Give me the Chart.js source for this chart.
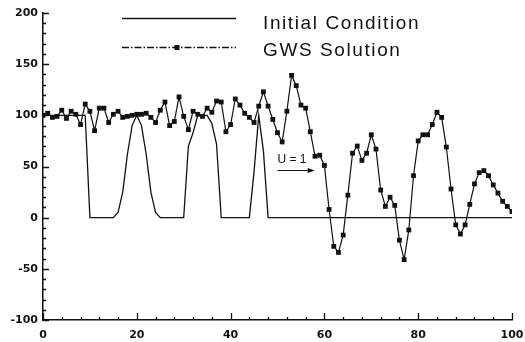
<!DOCTYPE html>
<html>
<head>
<meta charset="utf-8">
<script src="https://cdn.jsdelivr.net/npm/chart.js@4.4.0/dist/chart.umd.min.js"></script>
<style>
  html, body { margin: 0; padding: 0; background: #fff; }
  #wrap { width: 525px; height: 342px; }
</style>
</head>
<body>
<div id="wrap"><canvas id="chart" width="525" height="342"></canvas></div>
<script>
// data
const xs = [
  0, 1, 2, 3, 4, 5, 6, 7, 8, 9, 10, 11, 12, 13, 14, 15, 16, 17, 18, 19,
  20, 21, 22, 23, 24, 25, 26, 27, 28, 29, 30, 31, 32, 33, 34, 35, 36, 37, 38, 39,
  40, 41, 42, 43, 44, 45, 46, 47, 48, 49, 50, 51, 52, 53, 54, 55, 56, 57, 58, 59,
  60, 61, 62, 63, 64, 65, 66, 67, 68, 69, 70, 71, 72, 73, 74, 75, 76, 77, 78, 79,
  80, 81, 82, 83, 84, 85, 86, 87, 88, 89, 90, 91, 92, 93, 94, 95, 96, 97, 98, 99, 100
];
const initialCondition = [
  100, 100, 100, 100, 100, 100, 100, 100, 100, 100, 0, 0, 0, 0, 0, 0, 5, 25, 62, 90,
  100, 90, 62, 25, 5, 0, 0, 0, 0, 0, 0, 70, 83, 100, 100, 100, 92, 72, 0, 0,
  0, 0, 0, 0, 0, 45, 100, 65, 0, 0, 0, 0, 0, 0, 0, 0, 0, 0, 0, 0,
  0, 0, 0, 0, 0, 0, 0, 0, 0, 0, 0, 0, 0, 0, 0, 0, 0, 0, 0, 0,
  0, 0, 0, 0, 0, 0, 0, 0, 0, 0, 0, 0, 0, 0, 0, 0, 0, 0, 0, 0, 0
];
const gwsSolution = [
  100, 102, 98, 99, 105, 97, 104, 101, 91, 111, 104, 85, 107, 107, 93, 101, 104, 98, 99, 100,
  101, 101, 102, 98, 93, 105, 113, 90, 94, 118, 99, 86, 104, 101, 99, 107, 103, 114, 113, 84,
  91, 116, 110, 102, 98, 93, 109, 123, 109, 96, 83, 74, 104, 139, 129, 110, 107, 84, 60, 61,
  51, 8, -28, -34, -17, 22, 63, 70, 56, 63, 81, 67, 27, 11, 20, 12, -22, -41, -12, 41,
  75, 81, 81, 91, 103, 98, 69, 28, -7, -16, -7, 13, 33, 44, 46, 41, 32, 24, 16, 11, 6
];
const seriesNames = ['Initial Condition', 'GWS Solution'];
const flowLabel = 'U = 1';

const ink = '#111';
const tickFont = { family: 'DejaVu Sans', size: 11, weight: 'bold' };

function pts(ys) {
  return xs.map((x, i) => ({ x: x, y: ys[i] }));
}

// inward tick marks, legend and the flow arrow
const decor = {
  id: 'decor',
  afterDraw(chart) {
    const ctx = chart.ctx;
    const xS = chart.scales.x, yS = chart.scales.y;
    const area = chart.chartArea;
    ctx.save();
    ctx.strokeStyle = ink;
    ctx.lineWidth = 1.3;
    ctx.beginPath();
    for (let v = 0; v <= 100; v += 4) {
      const px = Math.round(xS.getPixelForValue(v)) + 0.5;
      const len = v % 20 === 0 ? 7 : 3;
      ctx.moveTo(px, area.bottom);
      ctx.lineTo(px, area.bottom - len);
    }
    for (let v = -100; v <= 200; v += 10) {
      const py = Math.round(yS.getPixelForValue(v)) + 0.5;
      const len = v % 50 === 0 ? 6 : 3;
      ctx.moveTo(area.left, py);
      ctx.lineTo(area.left + len, py);
    }
    ctx.stroke();

    // legend
    const ds = chart.data.datasets;
    ctx.lineWidth = 1.3;
    ctx.beginPath();
    ctx.moveTo(122, 18.5);
    ctx.lineTo(236, 18.5);
    ctx.stroke();
    ctx.setLineDash([7, 2, 1.5, 2]);
    ctx.beginPath();
    ctx.moveTo(122, 47.5);
    ctx.lineTo(236, 47.5);
    ctx.stroke();
    ctx.setLineDash([]);
    ctx.fillStyle = ink;
    ctx.fillRect(174.5, 45, 5, 5);

    ctx.font = '19px "Liberation Sans", Arial, sans-serif';
    ctx.letterSpacing = '1.6px';
    ctx.textBaseline = 'alphabetic';
    ctx.textAlign = 'left';
    ctx.fillText(ds[0].label, 263, 28.5);
    ctx.fillText(ds[1].label, 263, 56);

    // U = 1 with arrow
    ctx.letterSpacing = '0px';
    ctx.font = '12px "Liberation Sans", Arial, sans-serif';
    const ax = xS.getPixelForValue(50);
    ctx.fillText(flowLabel, ax, yS.getPixelForValue(53));
    const ay = Math.round(yS.getPixelForValue(47)) + 0.5;
    const ex = xS.getPixelForValue(57.5);
    ctx.lineWidth = 1.2;
    ctx.beginPath();
    ctx.moveTo(ax, ay);
    ctx.lineTo(ex, ay);
    ctx.stroke();
    ctx.beginPath();
    ctx.moveTo(ex + 2, ay);
    ctx.lineTo(ex - 5, ay - 2.5);
    ctx.lineTo(ex - 5, ay + 2.5);
    ctx.closePath();
    ctx.fill();
    ctx.restore();
  }
};

new Chart(document.getElementById('chart'), {
  type: 'line',
  data: {
    datasets: [
      {
        label: seriesNames[0],
        data: pts(initialCondition),
        borderColor: ink,
        borderWidth: 1.3,
        pointRadius: 0,
        tension: 0
      },
      {
        label: seriesNames[1],
        data: pts(gwsSolution),
        borderColor: ink,
        backgroundColor: ink,
        borderWidth: 1.2,
        pointStyle: 'rect',
        pointRadius: 3.4,
        pointBorderWidth: 0,
        tension: 0
      }
    ]
  },
  options: {
    responsive: false,
    animation: false,
    devicePixelRatio: 1,
    layout: { padding: { top: 13, right: 13, left: 0, bottom: 0 } },
    plugins: { legend: { display: false }, tooltip: { enabled: false } },
    scales: {
      x: {
        type: 'linear',
        min: 0,
        max: 100,
        ticks: { stepSize: 20, color: ink, font: tickFont, padding: 9, maxRotation: 0 },
        grid: { display: false, drawTicks: false },
        border: { display: true, color: ink, width: 1.5 },
        afterFit: s => { s.height = 22; s.paddingLeft = 0; s.paddingRight = 0; }
      },
      y: {
        min: -100,
        max: 200,
        ticks: { stepSize: 50, color: ink, font: tickFont, padding: 5 },
        grid: { display: false, drawTicks: false },
        border: { display: true, color: ink, width: 1.5 },
        afterFit: s => { s.width = 43; s.paddingTop = 0; s.paddingBottom = 0; }
      }
    }
  },
  plugins: [decor]
});
</script>
</body>
</html>
